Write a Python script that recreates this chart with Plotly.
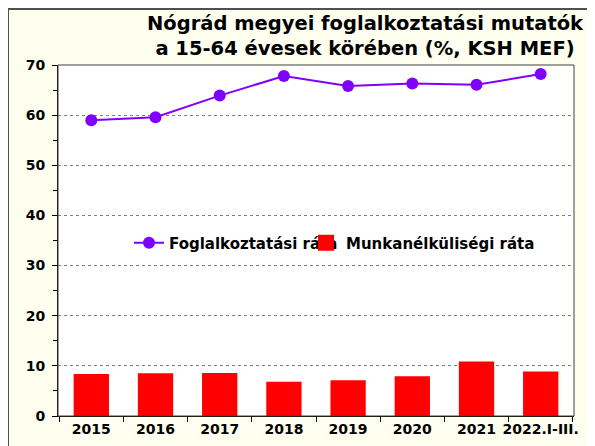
import plotly.graph_objects as go

categories = ["2015", "2016", "2017", "2018", "2019", "2020", "2021", "2022.I-III."]
foglalkoztatasi = [59.0, 59.6, 63.9, 67.8, 65.8, 66.3, 66.05, 68.2]
munkanelkulisegi = [8.4, 8.55, 8.6, 6.85, 7.15, 7.95, 10.85, 8.85]
y_ticks = [0, 10, 20, 30, 40, 50, 60, 70]

FONT = "DejaVu Sans, Arial, sans-serif"
W, H = 587, 438
ML, MR, MT, MB = 50, 21, 57, 30
PW, PH = W - ML - MR, H - MT - MB


def px_x(p):
    return (p - ML) / PW


def px_y(p):
    return (H - MB - p) / PH


LEG_FONT = dict(family=FONT, size=15, color="#000000", weight="bold")

fig = go.Figure()
fig.add_trace(go.Bar(
    x=categories, y=munkanelkulisegi, name="Munkanélküliségi ráta",
    marker=dict(color="#FF0000", line=dict(width=0)),
    showlegend=False,
))
fig.add_trace(go.Scatter(
    x=categories, y=foglalkoztatasi, name="Foglalkoztatási ráta",
    mode="lines+markers",
    line=dict(color="#8000FF", width=2),
    marker=dict(color="#8000FF", size=12),
    legend="legend",
))
# legend entry for the bars (larger square symbol)
fig.add_trace(go.Scatter(
    x=[None], y=[None], name="Munkanélküliségi ráta",
    mode="markers",
    marker=dict(color="#FF0000", symbol="square", size=16),
    legend="legend2",
))

fig.update_layout(
    width=W, height=H,
    margin=dict(l=ML, r=MR, t=MT, b=MB, autoexpand=False),
    paper_bgcolor="#FFFFF0",
    plot_bgcolor="#FFFFFF",
    font=dict(family=FONT, size=14, color="#000000"),
    bargap=0.45,
    showlegend=True,
    legend=dict(
        orientation="h",
        x=px_x(121), xanchor="left",
        y=px_y(235), yanchor="middle",
        bgcolor="rgba(0,0,0,0)",
        font=LEG_FONT,
        itemclick=False, itemdoubleclick=False,
    ),
    legend2=dict(
        orientation="h",
        x=px_x(298), xanchor="left",
        y=px_y(235), yanchor="middle",
        bgcolor="rgba(0,0,0,0)",
        font=LEG_FONT,
        itemclick=False, itemdoubleclick=False,
    ),
    xaxis=dict(
        type="category",
        showline=True, linecolor="#000000", linewidth=1,
        ticks="outside", tickson="boundaries", ticklen=5, tickcolor="#000000",
        tickangle=0, automargin=False,
        tickfont=dict(family=FONT, size=14, weight="bold"),
        showgrid=False,
    ),
    yaxis=dict(
        range=[0, 70], tickvals=y_ticks,
        showline=True, linecolor="#000000", linewidth=1,
        ticks="outside", ticklen=5, tickcolor="#000000",
        ticklabelstandoff=4, automargin=False,
        minor=dict(dtick=5, ticks="outside", ticklen=4, tickcolor="#000000", showgrid=False),
        tickfont=dict(family=FONT, size=14, weight="bold"),
        showgrid=True, gridcolor="#808080", griddash="dot", gridwidth=1,
        zeroline=False,
    ),
    annotations=[dict(
        text="<b>Nógrád megyei foglalkoztatási mutatók<br>a 15-64 évesek körében (%, KSH MEF)</b>",
        xref="paper", yref="paper",
        x=px_x(357), xanchor="center",
        y=px_y(2), yanchor="top",
        showarrow=False, align="center",
        font=dict(family=FONT, size=19.5, color="#000000"),
    )],
    shapes=[
        dict(type="rect", xref="paper", yref="paper",
             x0=0, x1=1, y0=0, y1=1,
             line=dict(color="#404040", width=1), fillcolor="rgba(0,0,0,0)", layer="above"),
        dict(type="line", xref="paper", yref="paper",
             x0=px_x(0), x1=px_x(0), y0=px_y(1), y1=px_y(H + 20),
             line=dict(color="#505050", width=2)),
        dict(type="line", xref="paper", yref="paper",
             x0=px_x(0), x1=px_x(W + 20), y0=px_y(1), y1=px_y(1),
             line=dict(color="#505050", width=2)),
    ],
)

fig.write_html("out.html")
